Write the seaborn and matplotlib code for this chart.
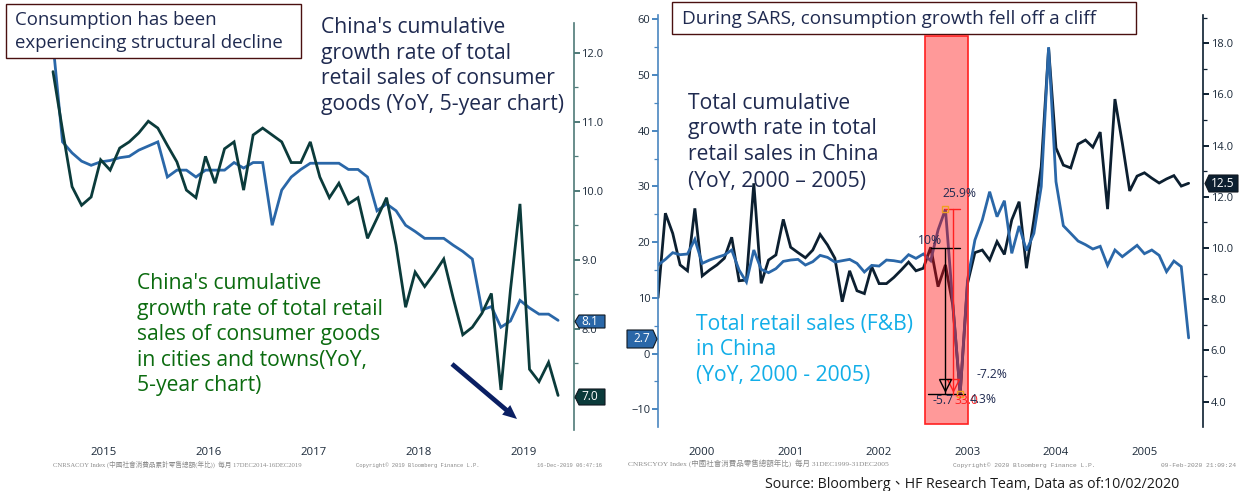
import matplotlib
matplotlib.use("Agg")
import matplotlib.pyplot as plt
from matplotlib.patches import Polygon, Rectangle
from matplotlib.ticker import MultipleLocator, FixedLocator, NullFormatter
from matplotlib.transforms import Affine2D
import numpy as np
import pandas as pd
import seaborn as sns

# ---------- data ----------
years_left = ["2015", "2016", "2017", "2018", "2019"]
years_right = ["2000", "2001", "2002", "2003", "2004", "2005"]

retail_5y = [12.14, 10.71, 10.55, 10.43, 10.37, 10.42, 10.44, 10.48, 10.5, 10.59, 10.65,
             10.71, 10.2, 10.3, 10.3, 10.2, 10.3, 10.3, 10.3, 10.41, 10.33, 10.41,
             10.41, 9.5, 10.01, 10.2, 10.31, 10.4, 10.4, 10.4, 10.4, 10.31, 10.31,
             10.2, 9.71, 9.81, 9.71, 9.5, 9.41, 9.31, 9.31, 9.31, 9.21, 9.12,
             9.01, 8.27, 8.32, 8.02, 8.11, 8.41, 8.3, 8.21, 8.21, 8.12]
cities_5y = [11.73, 10.88, 10.06, 9.79, 9.91, 10.45, 10.3, 10.62, 10.71, 10.84, 11.01,
             10.91, 10.66, 10.42, 10.01, 9.9, 10.5, 10.11, 10.61, 10.71, 10.01, 10.81,
             10.91, 10.81, 10.71, 10.41, 10.41, 10.71, 10.2, 9.9, 10.11, 9.81, 9.9,
             9.31, 9.6, 9.9, 9.21, 8.31, 8.82, 8.61, 8.8, 9.01, 8.44, 7.91,
             8.02, 8.22, 8.51, 7.11, 8.56, 9.81, 7.41, 7.23, 7.51, 7.03]
total_sars = [8.06, 11.36, 10.57, 9.34, 9.11, 11.55, 8.91, 9.14, 9.34, 9.6, 10.42, 8.72,
              8.75, 12.53, 8.62, 9.53, 9.73, 11.12, 10.03, 9.82, 9.62, 9.92, 10.53, 10.12,
              9.6, 7.9, 9.11, 8.33, 8.22, 9.27, 8.61, 8.61, 8.85, 9.14, 9.45, 9.11,
              9.21, 10.03, 8.49, 9.34, 7.77, 4.3, 8.62, 9.82, 9.92, 9.53, 10.25, 9.75,
              11.1, 11.81, 9.21, 11.1, 13.18, 17.8, 13.91, 13.24, 13.13, 14.06, 14.22, 13.94,
              14.53, 11.52, 15.82, 14.1, 12.23, 12.81, 12.94, 12.73, 12.54, 12.7, 12.83, 12.42,
              12.53]
fb_sars = [15.88, 16.9, 18.1, 17.74, 17.86, 20.49, 16.18, 16.78, 17.26, 17.68, 18.58, 14.99,
           12.83, 18.58, 15.11, 14.51, 15.23, 16.54, 16.78, 16.9, 15.88, 16.48, 17.62, 17.26,
           16.42, 16.66, 16.9, 16.18, 14.63, 15.82, 15.7, 16.78, 16.66, 16.42, 17.74, 17.08,
           17.86, 16.66, 22.17, 25.9, 9.0, -7.2, 13.19, 20.37, 23.96, 29.05, 24.56, 27.43,
           17.98, 22.89, 18.46, 21.57, 29.95, 55.0, 30.85, 22.94, 21.57, 20.19, 19.54, 18.76,
           19.24, 15.82, 18.58, 17.38, 18.4, 19.42, 17.92, 18.58, 17.62, 14.69, 16.6, 15.59,
           2.8]

# ---------- setup ----------
W, H = 1247, 491
sns.set_theme(style="white")
plt.rcParams["font.family"] = ["Open Sans", "Noto Sans CJK TC", "DejaVu Sans"]
fig = plt.figure(figsize=(W / 100, H / 100), dpi=100, facecolor="white")
pxT = Affine2D().scale(1 / W, -1 / H).translate(0, 1) + fig.transFigure


def make_ax(x0, x1, y0, y1):
    return fig.add_axes([x0 / W, 1 - y1 / H, (x1 - x0) / W, (y1 - y0) / H])


BLUE = "#2a67a8"
TEAL = "#0b3b3b"
INK = "#0c1f30"
NAVY = "#1f2a50"
LW = 2.0


def draw(ax, values, color):
    df = pd.DataFrame({"i": np.arange(len(values)), "v": values})
    sns.lineplot(data=df, x="i", y="v", ax=ax, color=color, lw=LW, estimator=None,
                 errorbar=None, solid_joinstyle="miter")
    ax.set_xlabel("")
    ax.set_ylabel("")


def style_y(ax, side, major, minor, fmt, color, fs=8.0):
    ax.yaxis.set_major_locator(MultipleLocator(major))
    ax.yaxis.set_minor_locator(MultipleLocator(minor))
    ax.yaxis.set_minor_formatter(NullFormatter())
    ax.yaxis.set_major_formatter(fmt)
    ax.yaxis.set_ticks_position(side)
    ax.yaxis.set_label_position(side)
    ax.tick_params(axis="y", which="major", length=4, width=1.4, color=color, labelsize=fs,
                   pad=1.5, labelcolor="#1c2a3a", left=side == "left", right=side == "right",
                   labelleft=side == "left", labelright=side == "right")
    ax.tick_params(axis="y", which="minor", length=3, width=0.9, color=color,
                   left=side == "left", right=side == "right")
    for s in ax.spines.values():
        s.set_visible(False)
    ax.spines[side].set_visible(True)
    ax.spines[side].set_color(color)
    ax.spines[side].set_linewidth(1.2)


def year_axis(ax, first, step, labels, pad):
    ax.xaxis.set_major_locator(FixedLocator([first + step * k for k in range(len(labels))]))
    ax.set_xticklabels(labels)
    ax.tick_params(axis="x", length=0, labelsize=8.2, labelcolor="#1c2a3a", pad=pad)


# ---------- left chart ----------
L_STEP = 9.53
axL = make_ax(30, 573.5, 23, 430)
draw(axL, retail_5y, BLUE)
draw(axL, cities_5y, TEAL)
axL.set_xlim((30 - 53) / L_STEP, (573.5 - 53) / L_STEP)
axL.set_ylim(12 - (430 - 53) / 68.9, 12 + (53 - 23) / 68.9)
style_y(axL, "right", 1, 0.5, "{x:.1f}", "#4f7a78")
year_axis(axL, 5.35, 11, years_left, 12.3)
axL.annotate("", xy=(517, 419), xytext=(452, 364), xycoords=pxT, textcoords=pxT,
             arrowprops=dict(arrowstyle="simple,head_width=0.75,head_length=0.85,tail_width=0.28",
                             color="#0a1f63", shrinkA=0, shrinkB=0, lw=0),
             annotation_clip=False)

# ---------- right chart ----------
R_STEP = 7.37
axR = make_ax(658, 1203, 15, 427)
draw(axR, total_sars, INK)
axR.set_xlim(0, (1203 - 658) / R_STEP)
axR.set_ylim(18 - (427 - 43.3) / 25.59, 18 + (43.3 - 15) / 25.59)
year_axis(axR, 5.97, 12, years_right, 14.4)

axB = axR.twinx()
axB.set_zorder(axR.get_zorder() + 1)
axB.patch.set_visible(False)
draw(axB, fb_sars, BLUE)
axB.set_xlim(axR.get_xlim())
axB.set_ylim((353.5 - 427) / 5.57, (353.5 - 15) / 5.57)
style_y(axR, "right", 2, 1, "{x:.1f}", INK)
style_y(axB, "left", 10, 5, "{x:.0f}", "#4a86c0")
axB.tick_params(axis="x", length=0, labelbottom=False)

# SARS window overlay and measuring marks
axB.add_patch(Rectangle((924.5, 36), 43.5, 388, transform=pxT, facecolor="#ff0000", alpha=0.4,
                        edgecolor="none", zorder=5, clip_on=False))
axB.add_patch(Rectangle((924.5, 36), 43.5, 388, transform=pxT, facecolor="none", edgecolor="#ff2020",
                        lw=1.2, zorder=5.5, clip_on=False))


def to_blue(v_total):
    return axB.transData.inverted().transform(axR.transData.transform((0, v_total)))[1]


k_top, k_bot = to_blue(10.0), to_blue(4.3)
axB.plot([37, 41], [k_top, k_top], color="black", lw=1, zorder=6, clip_on=False)
axB.plot([36.7, 41.6], [k_bot, k_bot], color="black", lw=1, zorder=6, clip_on=False)
axB.plot([39, 39], [k_top, k_bot], color="black", lw=1, zorder=6)
axB.plot([39, 41], [25.9, 25.9], color="#ff2020", lw=1, zorder=6)
axB.plot([40, 40], [25.9, -7.2], color="#ff2020", lw=1, zorder=6)
axB.plot([40], [-5.6], marker="v", ms=8, mfc="none", mec="#ff2020", mew=1, zorder=6)
axB.plot([39], [-5.6], marker="v", ms=8, mfc="none", mec="black", mew=1, zorder=6)
axB.plot([39, 41], [25.9, -7.2], ls="none", marker="s", ms=5, mfc="none", mec="#f0a020", mew=1, zorder=7)


# ---------- text ----------
def lines(rows, x, baselines, color, fs):
    for row, y in zip(rows, baselines):
        fig.text(x / W, 1 - y / H, row, color=color, fontsize=fs, va="baseline", ha="left")


def box(x0, y0, x1, y1):
    fig.add_artist(Rectangle((x0, y0), x1 - x0, y1 - y0, transform=pxT, facecolor="white",
                             edgecolor="#4a1010", lw=1, zorder=1))


box(5.5, 3.5, 300.5, 58.5)
box(671.5, 1.5, 1135.5, 33.5)
BIG = 15.25
lines(["Consumption has been", "experiencing structural decline"], 15, [25, 48], NAVY, 13.4)
lines(["During SARS, consumption growth fell off a cliff"], 682, [24], NAVY, 13.6)
lines(["China's cumulative", "growth rate of total", "retail sales of consumer",
       "goods (YoY, 5-year chart)"], 321, [33, 58.5, 84.5, 110], NAVY, BIG)
lines(["China's cumulative", "growth rate of total retail", "sales of consumer goods",
       "in cities and towns(YoY,", "5-year chart)"], 137, [289, 315, 340, 366, 391], "#0b6b0f", BIG)
lines(["Total cumulative", "growth rate in total", "retail sales in China",
       "(YoY, 2000 \u2013 2005)"], 688, [109, 134, 160, 187], NAVY, BIG)
lines(["Total retail sales (F&B)", "in China", "(YoY, 2000 - 2005)"], 696, [330, 355, 381], "#12aee8", BIG)
lines(["Source: Bloomberg\u3001HF Research Team, Data as of:10/02/2020"], 765, [488], "#1a1a1a", 10.15)

for txt, x, y, col in [("10%", 918, 244, NAVY), ("25.9%", 942, 197, NAVY), ("-7.2%", 977, 378, NAVY),
                       ("-5.7", 933, 404, NAVY), ("33.0", 955, 404, "#ff2020"), ("4.3%", 970, 403, NAVY)]:
    lines([txt], x, [y], col, 8.7)


def tag(x0, x1, y0, y1, txt, color, point):
    ym = (y0 + y1) / 2
    if point == "left":
        pts = [(x0, ym), (x0 + 4, y0), (x1, y0), (x1, y1), (x0 + 4, y1)]
    else:
        pts = [(x1, ym), (x1 - 4, y0), (x0, y0), (x0, y1), (x1 - 4, y1)]
    fig.add_artist(Polygon(pts, closed=True, transform=pxT, facecolor=color, edgecolor="#101820",
                           lw=0.8, zorder=2))
    fig.text((x0 + 6) / W, 1 - ym / H, txt, color="white", fontsize=8.6, va="center", ha="left", zorder=4)


tag(575, 605, 315, 328, "8.1", BLUE, "left")
tag(575, 605, 389, 405, "7.0", TEAL, "left")
tag(627, 657, 330, 348, "2.7", BLUE, "right")
tag(1205, 1238, 175, 192, "12.5", INK, "left")

# ---------- small print ----------
small = ["Liberation Serif", "Noto Sans CJK TC", "DejaVu Sans"]
mono = ["Liberation Mono", "DejaVu Sans Mono"]
for txt, x, fam, fs in [
    ("CNRSACOY Index (\u4e2d\u570b\u793e\u6703\u6d88\u8cbb\u54c1\u7d2f\u8a08\u96f6\u552e\u7e3d\u984d(\u5e74\u6bd4))  \u6bcf\u6708 17DEC2014-16DEC2019", 53, small, 4.8),
    ("Copyright\u00a9 2019 Bloomberg Finance L.P.", 356, mono, 4.0),
    ("16-Dec-2019 06:47:16", 537, mono, 4.0),
    ("CNRSCYOY Index (\u4e2d\u570b\u793e\u6703\u6d88\u8cbb\u54c1\u96f6\u552e\u7e3d\u984d\u5e74\u6bd4)  \u6bcf\u6708 31DEC1999-31DEC2005", 628, small, 5.4),
    ("Copyright\u00a9 2020 Bloomberg Finance L.P.", 953, mono, 4.5),
    ("09-Feb-2020 21:09:24", 1161, mono, 4.5),
]:
    fig.text(x / W, 1 - 467 / H, txt, color="#8a8a8a", fontsize=fs, family=fam, va="baseline", ha="left")

fig.savefig("out.png", dpi=100, facecolor="white")
